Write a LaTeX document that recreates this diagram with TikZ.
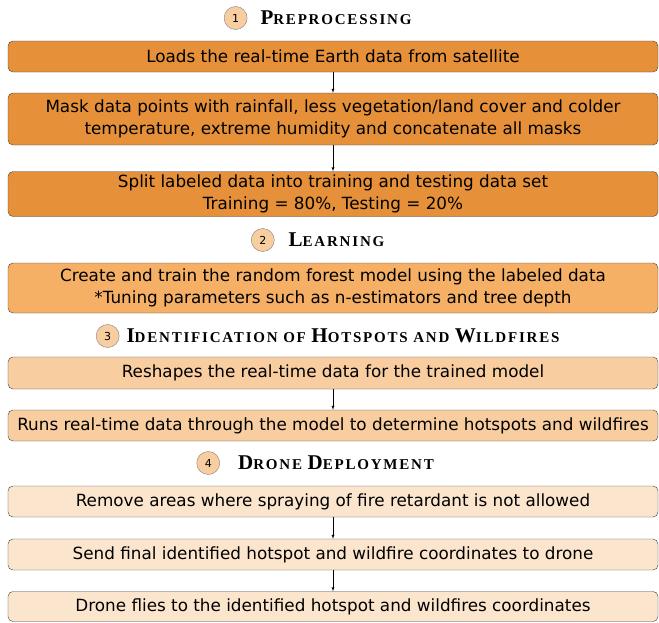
\documentclass[tikz,border=0pt]{standalone}
\usepackage{fontspec}
\setmainfont{DejaVu Sans}
\newfontfamily\headfont[LetterSpace=12]{Liberation Serif}
\usetikzlibrary{positioning}
\definecolor{stepdark}{HTML}{E6913A}
\definecolor{stepmid}{HTML}{F5B066}
\definecolor{steplight}{HTML}{F8CDA0}
\definecolor{steppale}{HTML}{FCE5CD}
\newcommand{\hdbig}[1]{{\fontsize{21}{21}\selectfont #1}}
\newcommand{\hdsmall}[1]{{\fontsize{15}{15}\selectfont #1}}
\begin{document}
\begin{tikzpicture}[x=1pt,y=1pt,
    stepbox/.style={draw=black!75,rounded corners=5pt,minimum width=650pt,align=center,inner sep=0pt,font=\fontsize{16.8}{22}\selectfont},
    numcirc/.style={circle,draw=black!50,fill=steplight,minimum size=23pt,inner sep=0pt,font=\fontsize{11}{11}\selectfont},
    headline/.style={inner sep=0pt,font=\headfont\bfseries}]
    \useasboundingbox (0,0) rectangle (659,-622);
    % preprocessing
    \node[headline] at (336,-18) (t1) {\hdbig{P}\hdsmall{REPROCESSING}};
    \node[numcirc,left=13pt of t1] (c1) {1};
    \node[stepbox,fill=stepdark,minimum height=31pt] at (333,-56.5) (b1) {Loads the real-time Earth data from satellite};
    \node[stepbox,fill=stepdark,minimum height=52pt] at (333,-119) (b2) {Mask data points with rainfall, less vegetation/land cover and colder\\temperature, extreme humidity and concatenate all masks};
    \node[stepbox,fill=stepdark,minimum height=45pt] at (333,-194) (b3) {Split labeled data into training and testing data set\\Training = 80\%, Testing = 20\%};
    % learning
    \node[headline] at (336.5,-240) (t2) {\hdbig{L}\hdsmall{EARNING}};
    \node[numcirc,left=14pt of t2] (c2) {2};
    \node[stepbox,fill=stepmid,minimum height=50pt] at (333,-288) (b4) {Create and train the random forest model using the labeled data\\*Tuning parameters such as n-estimators and tree depth};
    % identification
    \node[headline] at (343,-336) (t3) {\hdbig{I}\hdsmall{DENTIFICATION OF }\hdbig{H}\hdsmall{OTSPOTS AND }\hdbig{W}\hdsmall{ILDFIRES}};
    \node[numcirc,left=7pt of t3] (c3) {3};
    \node[stepbox,fill=steplight,minimum height=32pt] at (333,-373) (b5) {Reshapes the real-time data for the trained model};
    \node[stepbox,fill=steplight,minimum height=31pt] at (333,-425.5) (b6) {Runs real-time data through the model to determine hotspots and wildfires};
    % drone deployment
    \node[headline] at (336,-463) (t4) {\hdbig{D}\hdsmall{RONE }\hdbig{D}\hdsmall{EPLOYMENT}};
    \node[numcirc,left=18pt of t4] (c4) {4};
    \node[stepbox,fill=steppale,minimum height=31pt] at (333,-501.5) (b7) {Remove areas where spraying of fire retardant is not allowed};
    \node[stepbox,fill=steppale,minimum height=31pt] at (333,-554.5) (b8) {Send final identified hotspot and wildfire coordinates to drone};
    \node[stepbox,fill=steppale,minimum height=30pt] at (333,-606.5) (b9) {Drone flies to the identified hotspot and wildfires coordinates};
    \draw[-latex,thin] (b1) -- (b2);
    \draw[-latex,thin] (b2) -- (b3);
    \draw[-latex,thin] (b5) -- (b6);
    \draw[-latex,thin] (b7) -- (b8);
    \draw[-latex,thin] (b8) -- (b9);
\end{tikzpicture}
\end{document}
